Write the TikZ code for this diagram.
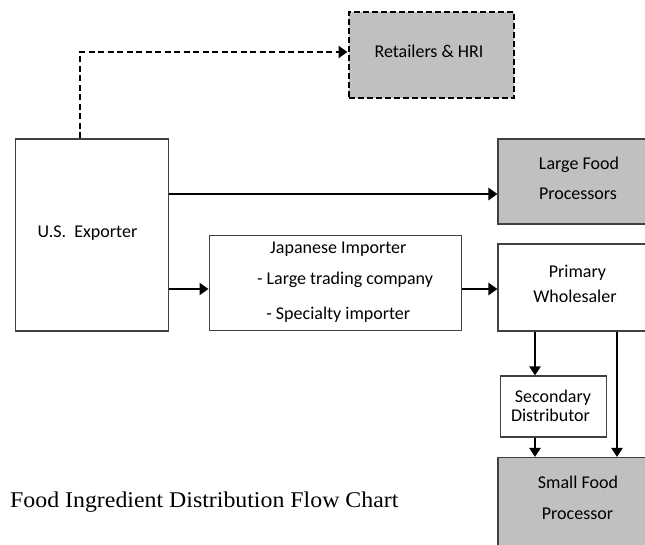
\documentclass[tikz,border=0pt]{standalone}
\usepackage{fontspec}
\usepackage{graphicx}
\setmainfont{Carlito}
\newfontfamily\titlefont{Liberation Serif}
\usetikzlibrary{arrows.meta}
\definecolor{boxgray}{HTML}{C0C0C0}
\definecolor{edgegray}{HTML}{404040}
\tikzset{
  box/.style={draw=edgegray, line width=1.1pt, rectangle, inner sep=0pt},
  grayfill/.style={fill=boxgray},
  dashbox/.style={draw=black, line width=2.4pt, dash pattern=on 6pt off 3pt, fill=boxgray, rectangle, inner sep=0pt},
  lbl/.style={anchor=base, inner sep=0pt, font=\fontsize{18}{21}\selectfont},
  flow/.style={line width=2.8pt, -{Triangle[length=9pt,width=12pt]}},
  flowthin/.style={line width=2.3pt, -{Triangle[length=9pt,width=11pt]}},
  dflow/.style={line width=2.6pt, dash pattern=on 6pt off 3.5pt, -{Triangle[length=9pt,width=12pt]}}
}
\begin{document}
\begin{tikzpicture}[x=1pt,y=-1pt]
\useasboundingbox (0,0) rectangle (645,544);
\clip (0,0) rectangle (645,544);
\fill[white] (0,0) rectangle (645,544);
% boxes
\node[dashbox, minimum width=165pt, minimum height=86pt] (ret) at (431.2,54.7) {};
\node[box, minimum width=152.5pt, minimum height=192pt] (us) at (91.8,235) {};
\node[box, grayfill, minimum width=162pt, minimum height=85pt] (lfp) at (579,181.5) {};
\node[box, minimum width=252.5pt, minimum height=95pt] (jpi) at (335.3,283) {};
\node[box, minimum width=162pt, minimum height=87pt] (pw) at (579,287.5) {};
\node[box, minimum width=106pt, minimum height=61pt] (sd) at (553.5,406.5) {};
\node[box, grayfill, minimum width=162pt, minimum height=105pt] (sfp) at (579,510) {};
% texts
\node[lbl] (ret-t) at (429,57) {Retailers \& HRI};
\node[lbl] (us-t) at (87.5,237) {U.S.\ \ Exporter};
\node[lbl] (lfp-t1) at (579,169.3) {Large Food};
\node[lbl] (lfp-t2) at (578,199.3) {Processors};
\node[lbl] (jpi-t1) at (338.3,253) {Japanese Importer};
\node[lbl] (jpi-t2) at (345,284) {- Large trading company};
\node[lbl] (jpi-t3) at (338.3,319) {- Specialty importer};
\node[lbl] (pw-t1) at (577.5,277) {Primary};
\node[lbl] (pw-t2) at (575,302) {Wholesaler};
\node[lbl] (sd-t1) at (553,402.7) {Secondary};
\node[lbl] (sd-t2) at (550.5,421.7) {Distributor};
\node[lbl] (sfp-t1) at (578,488.7) {Small Food};
\node[lbl] (sfp-t2) at (577.5,519) {Processor};
\node[anchor=base west, inner sep=0pt, font=\titlefont\fontsize{22.5}{26}\selectfont] (title) at (10,507) {\scalebox{1.06}[1]{Food Ingredient Distribution Flow Chart}};
% connectors
\draw[dflow] ([xshift=-11.8pt]us.north) |- ([yshift=2.7pt]ret.west);
\draw[flow] (us.east |- 0,194) -- (lfp.west |- 0,194);
\draw[flow] (us.east |- 0,289) -- (jpi.west |- 0,289);
\draw[flow] (jpi.east |- 0,289) -- (pw.west |- 0,289);
\draw[flowthin] (pw.south -| 535,0) -- (sd.north -| 535,0);
\draw[flowthin] (sd.south -| 535,0) -- (sfp.north -| 535,0);
\draw[flowthin] (pw.south -| 617,0) -- (sfp.north -| 617,0);
\end{tikzpicture}
\end{document}
